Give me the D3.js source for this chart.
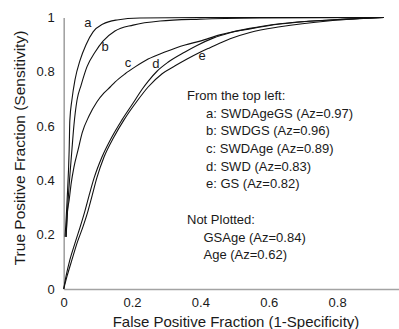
<!DOCTYPE html>
<html>
<head>
<meta charset="utf-8">
<script src="https://cdn.jsdelivr.net/npm/d3@7"></script>
<style>
  body { margin: 0; background: #fff; }
  svg { display: block; font-family: "Liberation Sans", Arial, sans-serif; }
</style>
</head>
<body>
<svg id="chart"></svg>
<script>
// series (false positive fraction, true positive fraction)
var curveKeys = ["a", "b", "c", "d", "e"];
var curveNames = ["SWDAgeGS", "SWDGS", "SWDAge", "SWD", "GS"];
var curveAz = ["0.97", "0.96", "0.89", "0.83", "0.82"];

var fpfA = [0.004, 0.010, 0.016, 0.018, 0.024, 0.033, 0.048, 0.065, 0.086, 0.115, 0.156, 0.223, 0.398, 0.937];
var tpfA = [0.192, 0.328, 0.512, 0.622, 0.696, 0.770, 0.843, 0.899, 0.947, 0.976, 0.991, 0.998, 1.0, 1.0];

var fpfB = [0.007, 0.013, 0.024, 0.030, 0.039, 0.051, 0.068, 0.092, 0.115, 0.150, 0.203, 0.282, 0.399, 0.574, 0.937];
var tpfB = [0.192, 0.328, 0.512, 0.604, 0.696, 0.751, 0.818, 0.873, 0.913, 0.950, 0.972, 0.987, 0.994, 0.998, 1.0];

var fpfC = [0.007, 0.010, 0.016, 0.022, 0.030, 0.042, 0.054, 0.074, 0.097, 0.118, 0.136, 0.150, 0.179, 0.209, 0.247, 0.296, 0.355, 0.399, 0.457, 0.545, 0.633, 0.780, 0.937];
var tpfC = [0.192, 0.273, 0.328, 0.390, 0.449, 0.512, 0.575, 0.637, 0.689, 0.722, 0.744, 0.762, 0.792, 0.818, 0.847, 0.873, 0.899, 0.913, 0.936, 0.958, 0.976, 0.991, 1.0];

var fpfD = [0, 0.007, 0.018, 0.033, 0.048, 0.062, 0.074, 0.089, 0.112, 0.141, 0.170, 0.209, 0.229, 0.247, 0.273, 0.305, 0.355, 0.390, 0.437, 0.487, 0.545, 0.633, 0.780, 0.937];
var tpfD = [0, 0.048, 0.107, 0.169, 0.228, 0.287, 0.343, 0.409, 0.486, 0.560, 0.622, 0.696, 0.735, 0.765, 0.802, 0.835, 0.873, 0.897, 0.924, 0.944, 0.960, 0.977, 0.991, 1.0];

var fpfE = [0, 0.010, 0.024, 0.039, 0.056, 0.071, 0.083, 0.097, 0.118, 0.147, 0.176, 0.217, 0.247, 0.288, 0.326, 0.361, 0.399, 0.428, 0.487, 0.545, 0.633, 0.780, 0.937];
var tpfE = [0, 0.048, 0.107, 0.169, 0.228, 0.287, 0.343, 0.409, 0.486, 0.560, 0.622, 0.696, 0.744, 0.793, 0.822, 0.847, 0.872, 0.889, 0.922, 0.945, 0.966, 0.988, 1.0];

// where the small letters sit on the curves
var labelFpf = [0.071, 0.121, 0.188, 0.270, 0.405];
var labelTpf = [0.980, 0.895, 0.833, 0.829, 0.862];

var notPlottedNames = ["GSAge", "Age"];
var notPlottedAz = ["0.84", "0.62"];

var xTicks = [0, 0.2, 0.4, 0.6, 0.8];
var yTicks = [0, 0.2, 0.4, 0.6, 0.8, 1];

var screen = { width: 399, height: 329 };

var drawChart = function(idName)
{
  var svg = d3.select(idName)
      .attr("width", screen.width)
      .attr("height", screen.height);

  var x = d3.scaleLinear().domain([0, 0.98]).range([63.7, 398.6]);
  var y = d3.scaleLinear().domain([0, 1]).range([289, 17.5]);

  var curves = [
    d3.zip(fpfA, tpfA), d3.zip(fpfB, tpfB), d3.zip(fpfC, tpfC),
    d3.zip(fpfD, tpfD), d3.zip(fpfE, tpfE)
  ];

  // axes
  var xAxis = svg.append("g")
      .attr("transform", "translate(0,289)")
      .call(d3.axisBottom(x).tickValues(xTicks).tickSize(0).tickPadding(9)
        .tickFormat(d => String(d)));

  var yAxis = svg.append("g")
      .attr("transform", "translate(63.7,0)")
      .call(d3.axisLeft(y).tickValues(yTicks).tickSize(0).tickPadding(9)
        .tickFormat(d => String(d)));

  [xAxis, yAxis].forEach(function(g)
  {
    g.select(".domain").attr("stroke", "#a3a3a3").attr("stroke-width", 1.6);
    g.selectAll("text")
      .attr("font-family", "'Liberation Sans', Arial, sans-serif")
      .attr("font-size", 13)
      .attr("fill", "#1a1a1a");
  });

  // curves
  var line = d3.line()
      .x(d => x(d[0]))
      .y(d => y(d[1]))
      .curve(d3.curveMonotoneX);

  svg.append("g")
    .selectAll("path")
    .data(curves)
    .join("path")
      .attr("d", line)
      .attr("fill", "none")
      .attr("stroke", "#111")
      .attr("stroke-width", 1.1);

  svg.append("g")
    .selectAll("text")
    .data(curveKeys)
    .join("text")
      .attr("x", (d, i) => x(labelFpf[i]))
      .attr("y", (d, i) => y(labelTpf[i]))
      .attr("dy", "0.35em")
      .attr("text-anchor", "middle")
      .attr("font-size", 13)
      .attr("fill", "#1a1a1a")
      .text(d => d);

  // legend text
  var legend = svg.append("g")
      .attr("font-size", 13)
      .attr("fill", "#1a1a1a");

  legend.append("text").attr("x", 187).attr("y", 100).text("From the top left:");

  legend.selectAll("text.entry")
    .data(curveKeys)
    .join("text")
      .attr("class", "entry")
      .attr("x", 206)
      .attr("y", (d, i) => 117.7 + i * 17.65)
      .text((d, i) => d + ": " + curveNames[i] + " (Az=" + curveAz[i] + ")");

  legend.append("text").attr("x", 187).attr("y", 224).text("Not Plotted:");

  legend.selectAll("text.other")
    .data(notPlottedNames)
    .join("text")
      .attr("class", "other")
      .attr("x", 203.5)
      .attr("y", (d, i) => 241.7 + i * 17.65)
      .text((d, i) => d + " (Az=" + notPlottedAz[i] + ")");

  // axis titles
  svg.append("text")
    .attr("x", 236)
    .attr("y", 326.5)
    .attr("text-anchor", "middle")
    .attr("font-size", 15)
    .attr("fill", "#1a1a1a")
    .text("False Positive Fraction (1-Specificity)");

  svg.append("text")
    .attr("transform", "translate(25,148) rotate(-90)")
    .attr("text-anchor", "middle")
    .attr("font-size", 15.5)
    .attr("fill", "#1a1a1a")
    .text("True Positive Fraction (Sensitivity)");
}

drawChart("#chart");
</script>
</body>
</html>
